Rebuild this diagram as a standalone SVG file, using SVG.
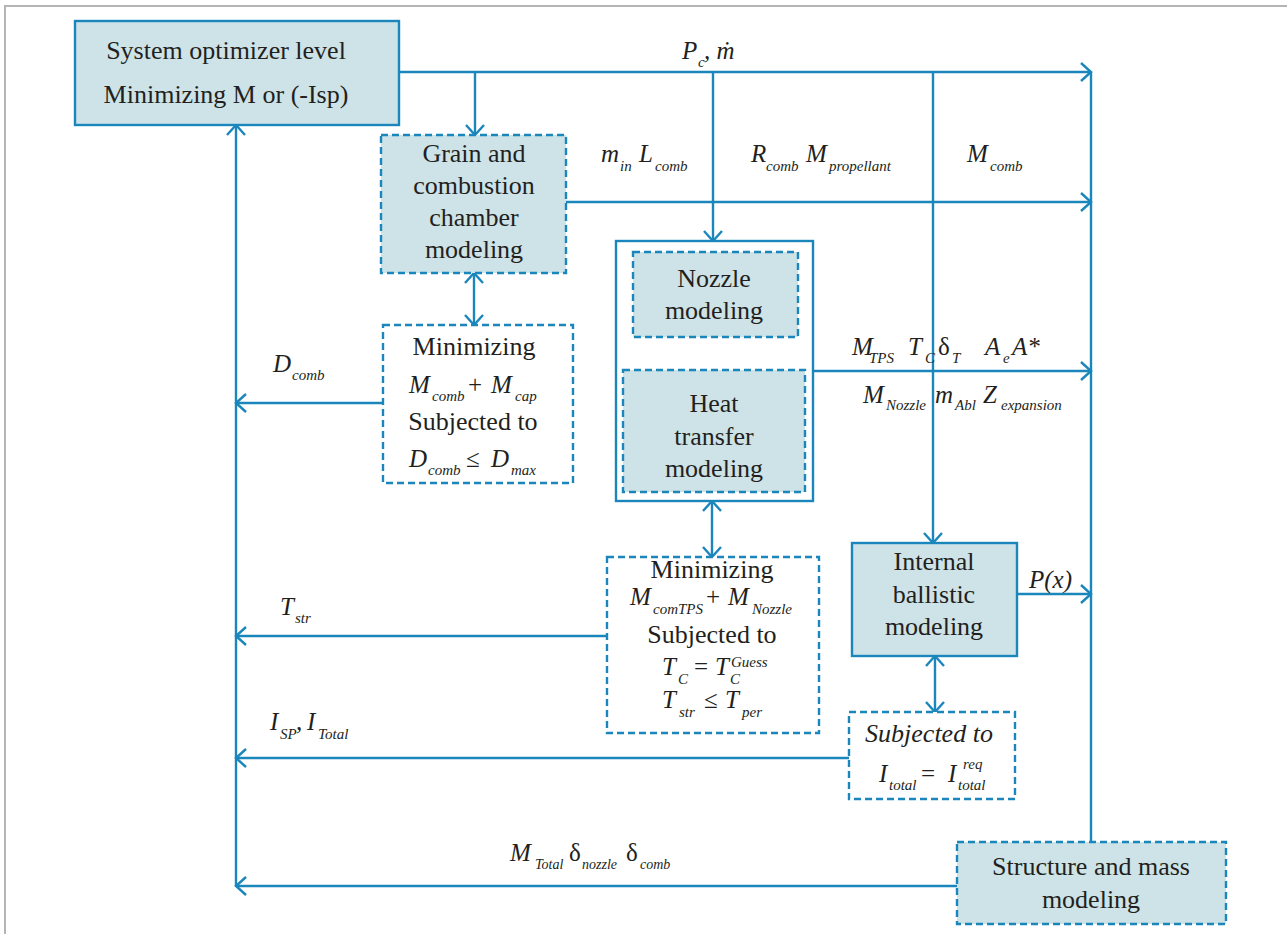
<svg xmlns="http://www.w3.org/2000/svg" width="1287" height="934" viewBox="0 0 1287 934">
<style>
.box{fill:#cde3e7;stroke:#1a86bc;stroke-width:2.4}
.wb{fill:#ffffff;stroke:#1a86bc;stroke-width:2.4}
.dash{stroke-dasharray:7 4}
.ln{fill:none;stroke:#1a86bc;stroke-width:2.4}
.t{font-family:"Liberation Serif","Times New Roman",serif;font-size:26px;fill:#231f20;text-anchor:middle}
.m{font-family:"Liberation Serif","Times New Roman",serif;font-size:25px;font-style:italic;fill:#231f20}
.s{font-size:15px}
.u{font-style:normal}
</style>
<defs>
<marker id="a" viewBox="-12 -11 14 22" refX="0" refY="0" markerWidth="14" markerHeight="22" markerUnits="userSpaceOnUse" orient="auto-start-reverse">
<path d="M-10,-9 L0,0 L-10,9" fill="none" stroke="#1a86bc" stroke-width="2.4"/>
</marker>
</defs>
<rect width="1287" height="934" fill="#ffffff"/>
<path d="M5,934 V6 H1287" fill="none" stroke="#b5b5b8" stroke-width="2"/>

<g id="connectors" class="ln">
<path d="M399,72 H1091" marker-end="url(#a)"/>
<path d="M1091,72 V842"/>
<path d="M475,72 V135" marker-end="url(#a)"/>
<path d="M713,72 V241" marker-end="url(#a)"/>
<path d="M933,72 V543" marker-end="url(#a)"/>
<path d="M566,202 H1091" marker-end="url(#a)"/>
<path d="M474,273 V325" marker-start="url(#a)" marker-end="url(#a)"/>
<path d="M383,403 H236" marker-end="url(#a)"/>
<path d="M813,371 H1091" marker-end="url(#a)"/>
<path d="M670,337 V370" marker-end="url(#a)"/>
<path d="M746,370 V337" marker-end="url(#a)"/>
<path d="M712,501 V557" marker-start="url(#a)" marker-end="url(#a)"/>
<path d="M607,636 H236" marker-end="url(#a)"/>
<path d="M1017,594 H1091" marker-end="url(#a)"/>
<path d="M935,656 V712" marker-start="url(#a)" marker-end="url(#a)"/>
<path d="M849,758 H236" marker-end="url(#a)"/>
<path d="M957,886 H236" marker-end="url(#a)"/>
<path d="M236,886 V125" marker-end="url(#a)"/>
</g>

<g id="labels">
<text class="m"><tspan x="682" y="59">P</tspan><tspan class="s" x="698" y="67">c</tspan><tspan x="704" y="59">, ṁ</tspan></text>
<text class="m"><tspan x="601" y="162">m</tspan><tspan class="s" x="620" y="171">in</tspan><tspan x="639" y="162">L</tspan><tspan class="s" x="655" y="171">comb</tspan></text>
<text class="m"><tspan x="751" y="162">R</tspan><tspan class="s" x="766" y="171">comb</tspan><tspan x="806" y="162">M</tspan><tspan class="s" x="829" y="171">propellant</tspan></text>
<text class="m"><tspan x="967" y="162">M</tspan><tspan class="s" x="990" y="171">comb</tspan></text>
<text class="m"><tspan x="273" y="372">D</tspan><tspan class="s" x="292" y="380">comb</tspan></text>
<text class="m"><tspan x="695" y="358">T</tspan><tspan class="s" x="712" y="366">c</tspan></text>
<text class="m"><tspan x="852" y="355">M</tspan><tspan class="s" x="869" y="363">TPS</tspan><tspan x="908" y="355">T</tspan><tspan class="s" x="925" y="363">C</tspan><tspan class="u" x="938" y="355">δ</tspan><tspan class="s" x="952" y="363">T</tspan><tspan x="985" y="355">A</tspan><tspan class="s" x="1003" y="363">e</tspan><tspan x="1012" y="355">A*</tspan></text>
<text class="m"><tspan x="863" y="403">M</tspan><tspan class="s" x="886" y="410">Nozzle</tspan><tspan x="935" y="403">m</tspan><tspan class="s" x="955" y="410">Abl</tspan><tspan x="983" y="403">Z</tspan><tspan class="s" x="1001" y="410">expansion</tspan></text>
<text class="m"><tspan x="280" y="615">T</tspan><tspan class="s" x="295" y="623">str</tspan></text>
<text class="m"><tspan x="1029" y="588">P(x)</tspan></text>
<text class="m"><tspan x="270" y="730">I</tspan><tspan class="s" x="280" y="739">SP</tspan><tspan x="296" y="730">,</tspan><tspan x="307" y="730">I</tspan><tspan class="s" x="318" y="739">Total</tspan></text>
<text class="m"><tspan x="510" y="861">M</tspan><tspan class="s" x="535" y="869" style="font-size:14px">Total</tspan><tspan class="u" x="569" y="861">δ</tspan><tspan class="s" x="582" y="869" style="font-size:14px">nozzle</tspan><tspan class="u" x="626" y="861">δ</tspan><tspan class="s" x="640" y="869" style="font-size:14px">comb</tspan></text>
</g>

<g id="optimizer">
<rect class="box" x="75" y="21" width="324" height="104"/>
<text class="t" x="226" y="59">System optimizer level</text>
<text class="t" x="226" y="103">Minimizing M or (-Isp)</text>
</g>

<g id="grain">
<rect class="box dash" x="381" y="135" width="185" height="138"/>
<text class="t" x="474" y="162">Grain and</text>
<text class="t" x="474" y="194">combustion</text>
<text class="t" x="474" y="226">chamber</text>
<text class="t" x="474" y="258">modeling</text>
</g>

<g id="min1">
<rect class="wb dash" x="383" y="325" width="190" height="158"/>
<text class="t" x="474" y="355">Minimizing</text>
<text class="m"><tspan x="409" y="393">M</tspan><tspan class="s" x="432" y="401">comb</tspan><tspan class="u" x="468" y="393">+</tspan><tspan x="491" y="393">M</tspan><tspan class="s" x="515" y="401">cap</tspan></text>
<text class="t" x="473" y="430">Subjected to</text>
<text class="m"><tspan x="409" y="467">D</tspan><tspan class="s" x="428" y="475">comb</tspan><tspan class="u" x="466" y="467">≤</tspan><tspan x="491" y="467">D</tspan><tspan class="s" x="511" y="475">max</tspan></text>
</g>

<g id="nozzle-container">
<rect class="wb" x="616" y="241" width="197" height="260"/>
</g>

<g id="nozzle">
<rect class="box dash" x="633" y="252" width="165" height="85"/>
<text class="t" x="714" y="287">Nozzle</text>
<text class="t" x="714" y="319">modeling</text>
</g>

<g id="heat">
<rect class="box dash" x="623" y="370" width="182" height="122"/>
<text class="t" x="714" y="412">Heat</text>
<text class="t" x="714" y="445">transfer</text>
<text class="t" x="714" y="477">modeling</text>
</g>

<g id="min2">
<rect class="wb dash" x="607" y="557" width="212" height="176"/>
<text class="t" x="712" y="578">Minimizing</text>
<text class="m"><tspan x="630" y="605">M</tspan><tspan class="s" x="653" y="614">comTPS</tspan><tspan class="u" x="706" y="605">+</tspan><tspan x="728" y="605">M</tspan><tspan class="s" x="752" y="614">Nozzle</tspan></text>
<text class="t" x="712" y="643">Subjected to</text>
<text class="m"><tspan x="662" y="675">T</tspan><tspan class="s" x="678" y="684">C</tspan><tspan class="u" x="694" y="675">=</tspan><tspan x="715" y="675">T</tspan><tspan class="s" x="731" y="667">Guess</tspan><tspan class="s" x="730" y="684">C</tspan></text>
<text class="m"><tspan x="662" y="708">T</tspan><tspan class="s" x="679" y="717">str</tspan><tspan class="u" x="704" y="708">≤</tspan><tspan x="725" y="708">T</tspan><tspan class="s" x="742" y="717">per</tspan></text>
</g>

<g id="internal">
<rect class="box" x="852" y="543" width="165" height="113"/>
<text class="t" x="934" y="570">Internal</text>
<text class="t" x="934" y="603">ballistic</text>
<text class="t" x="934" y="635">modeling</text>
</g>

<g id="subjected">
<rect class="wb dash" x="849" y="712" width="166" height="87"/>
<text class="t" x="929" y="742" style="font-style:italic">Subjected to</text>
<text class="m"><tspan x="879" y="782">I</tspan><tspan class="s" x="889" y="790">total</tspan><tspan class="u" x="921" y="782">=</tspan><tspan x="948" y="782">I</tspan><tspan class="s" x="963" y="769">req</tspan><tspan class="s" x="958" y="790">total</tspan></text>
</g>

<g id="structure">
<rect class="box dash" x="957" y="842" width="269" height="82"/>
<text class="t" x="1091" y="875">Structure and mass</text>
<text class="t" x="1091" y="908">modeling</text>
</g>
</svg>
